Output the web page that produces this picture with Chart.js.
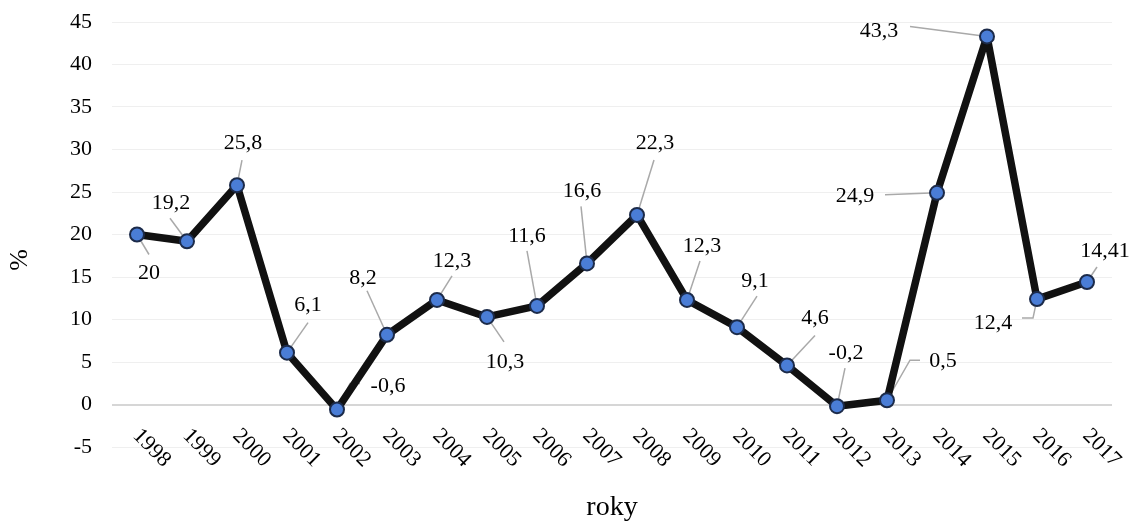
<!DOCTYPE html>
<html>
<head>
<meta charset="utf-8">
<title>roky</title>
<script src="https://cdn.jsdelivr.net/npm/chart.js@4.4.1/dist/chart.umd.min.js"></script>
<style>
  html, body { margin: 0; padding: 0; background: #fff; }
  #chart { display: block; }
</style>
</head>
<body>
<canvas id="chart" width="1133" height="524"></canvas>
<script>
// Data
const years = ['1998', '1999', '2000', '2001', '2002', '2003', '2004', '2005', '2006', '2007',
  '2008', '2009', '2010', '2011', '2012', '2013', '2014', '2015', '2016', '2017'];
const growth = [20, 19.2, 25.8, 6.1, -0.6, 8.2, 12.3, 10.3, 11.6, 16.6,
  22.3, 12.3, 9.1, 4.6, -0.2, 0.5, 24.9, 43.3, 12.4, 14.41];
const yMin = -5;
const yMax = 45;
const yStep = 5;

// Where each value label sits relative to its point (label centre + leader line)
const labelPlacement = [
  { dx: 12, dy: 39, line: [[12, 20]] },
  { dx: -16, dy: -38, line: [[-17, -23]] },
  { dx: 6, dy: -42, line: [[5, -25]] },
  { dx: 21, dy: -47, line: [[21, -30]] },
  { dx: 51, dy: -23, line: [[13, -26], [23, -26]] },
  { dx: -24, dy: -57, line: [[-20, -44]] },
  { dx: 15, dy: -39, line: [[15, -24]] },
  { dx: 18, dy: 45, line: [[17, 25]] },
  { dx: -10, dy: -70, line: [[-10, -55]] },
  { dx: -5, dy: -72, line: [[-6, -57]] },
  { dx: 18, dy: -72, line: [[17, -55]] },
  { dx: 15, dy: -54, line: [[13, -39]] },
  { dx: 18, dy: -46, line: [[20, -31]] },
  { dx: 28, dy: -47, line: [[28, -30]] },
  { dx: 9, dy: -53, line: [[8, -38]] },
  { dx: 56, dy: -39, line: [[23, -40], [33, -40]] },
  { dx: -82, dy: 3, line: [[-52, 2]] },
  { dx: -108, dy: -5, line: [[-77, -10]] },
  { dx: -44, dy: 24, line: [[-4, 19], [-15, 19]] },
  { dx: 18, dy: -31, line: [[10, -15]] }
];

const serif = '"Liberation Serif", "Times New Roman", serif';

// Leader lines, value labels, slanted year labels and the % title
const labelPlugin = {
  id: 'valueLabels',
  beforeDatasetsDraw(chart) {
    const ctx = chart.ctx;
    const meta = chart.getDatasetMeta(0);
    ctx.save();
    ctx.strokeStyle = '#a9a9a9';
    ctx.lineWidth = 1.5;
    meta.data.forEach((pt, i) => {
      const p = labelPlacement[i];
      ctx.beginPath();
      ctx.moveTo(pt.x, pt.y);
      p.line.forEach(([lx, ly]) => ctx.lineTo(pt.x + lx, pt.y + ly));
      ctx.stroke();
    });
    ctx.restore();
  },
  afterDatasetsDraw(chart) {
    const ctx = chart.ctx;
    const meta = chart.getDatasetMeta(0);
    ctx.save();
    ctx.font = '22px ' + serif;
    ctx.fillStyle = '#000';
    ctx.textAlign = 'center';
    ctx.textBaseline = 'middle';
    meta.data.forEach((pt, i) => {
      const p = labelPlacement[i];
      const txt = String(growth[i]).replace('.', ',');
      ctx.fillText(txt, pt.x + p.dx, pt.y + p.dy);
    });
    ctx.restore();
  },
  afterDraw(chart) {
    const ctx = chart.ctx;
    const xScale = chart.scales.x;
    const zeroY = chart.scales.y.getPixelForValue(0);
    ctx.save();
    ctx.font = '22px ' + serif;
    ctx.fillStyle = '#000';
    ctx.textAlign = 'left';
    ctx.textBaseline = 'middle';
    years.forEach((yr, i) => {
      const x = xScale.getPixelForValue(i);
      ctx.save();
      ctx.translate(x - 1, zeroY + 28);
      ctx.rotate(Math.PI / 4);
      ctx.fillText(yr, 0, 0);
      ctx.restore();
    });
    // y axis title sits a bit below the middle of the plot in the original
    ctx.font = '26px ' + serif;
    ctx.textAlign = 'center';
    ctx.translate(20, 260);
    ctx.rotate(-Math.PI / 2);
    ctx.fillText('%', 0, 0);
    ctx.restore();
  }
};

const ctx = document.getElementById('chart').getContext('2d');
new Chart(ctx, {
  type: 'line',
  data: {
    labels: years,
    datasets: [{
      data: growth,
      borderColor: '#111111',
      borderWidth: 7.5,
      borderJoinStyle: 'round',
      tension: 0,
      pointRadius: 7,
      pointBackgroundColor: '#4a7dd6',
      pointBorderColor: '#1c2b4a',
      pointBorderWidth: 2,
      fill: false
    }]
  },
  options: {
    responsive: false,
    animation: false,
    layout: { padding: { top: 22, right: 21, bottom: 0, left: 10 } },
    plugins: {
      legend: { display: false },
      tooltip: { enabled: false }
    },
    scales: {
      x: {
        offset: true,
        grid: { display: false },
        border: { display: false },
        ticks: { display: false },
        title: {
          display: true,
          text: 'roky',
          font: { family: serif, size: 28 },
          color: '#000',
          padding: { top: 0, bottom: 0 }
        },
        afterFit(scale) { scale.height = 77; }
      },
      y: {
        min: yMin,
        max: yMax,
        ticks: {
          stepSize: yStep,
          padding: 20,
          color: '#000',
          font: { family: serif, size: 22 }
        },
        grid: {
          drawTicks: false,
          color: c => (c.tick && c.tick.value === 0 ? '#d6d6d6' : '#efefef'),
          lineWidth: c => (c.tick && c.tick.value === 0 ? 2 : 1)
        },
        border: { display: false },
        title: { display: false },
        afterFit(scale) {
          scale.width = 102;
          scale.paddingTop = 0;
          scale.paddingBottom = 0;
        }
      }
    }
  },
  plugins: [labelPlugin]
});
</script>
</body>
</html>
